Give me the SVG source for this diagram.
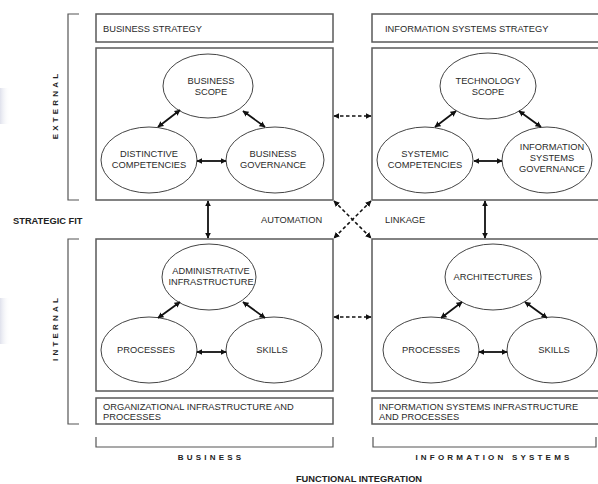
<svg xmlns="http://www.w3.org/2000/svg" width="598" height="484" viewBox="0 0 598 484">
<defs>
<marker id="ah" viewBox="0 0 10 10" refX="9" refY="5" markerWidth="6" markerHeight="6" markerUnits="userSpaceOnUse" orient="auto-start-reverse">
<path d="M0,0 L10,5 L0,10 z" fill="#111"/>
</marker>
<linearGradient id="blob" x1="0" y1="0" x2="1" y2="0">
<stop offset="0" stop-color="#dfe1ec"/>
<stop offset="1" stop-color="#ffffff" stop-opacity="0"/>
</linearGradient>
<style>
.box{fill:#fff;stroke:#5a5a5a;stroke-width:1.5}
.ell{fill:#fff;stroke:#444;stroke-width:1}
.brk{fill:none;stroke:#555;stroke-width:1.2}
.t{font-family:"Liberation Sans",Arial,sans-serif;font-size:9.3px;fill:#2a2a2a}
.tc{font-family:"Liberation Sans",Arial,sans-serif;font-size:9.3px;fill:#2a2a2a;text-anchor:middle}
.b{font-family:"Liberation Sans",Arial,sans-serif;font-size:9.3px;font-weight:bold;fill:#222}
.sp{font-family:"Liberation Sans",Arial,sans-serif;font-size:8px;font-weight:bold;fill:#222;text-anchor:middle;letter-spacing:3.2px}
.ar{stroke:#111;stroke-width:1.8;fill:none;marker-start:url(#ah);marker-end:url(#ah)}
.da{stroke:#111;stroke-width:1.6;fill:none;stroke-dasharray:3.5 2.5;marker-start:url(#ah);marker-end:url(#ah)}
</style>
</defs>
<rect width="598" height="484" fill="#fff"/>
<rect x="0" y="88" width="10" height="36" fill="url(#blob)"/>
<rect x="0" y="298" width="10" height="46" fill="url(#blob)"/>

<g id="side-labels">
<path class="brk" d="M79,14 H68 V200 H79"/>
<path class="brk" d="M79,239 H68 V424 H79"/>
<text class="sp" transform="translate(58,105) rotate(-90)">EXTERNAL</text>
<text class="sp" transform="translate(58,328) rotate(-90)">INTERNAL</text>
<text class="b" x="13" y="223.5">STRATEGIC FIT</text>
<text class="t" x="261" y="223">AUTOMATION</text>
<text class="t" x="385" y="223">LINKAGE</text>
</g>

<g id="bottom-labels">
<path class="brk" d="M96,437 V447 H333 V437"/>
<path class="brk" d="M373,437 V447 H596 V437"/>
<text class="sp" x="211" y="460">BUSINESS</text>
<text class="sp" x="494" y="460">INFORMATION SYSTEMS</text>
<text class="b" x="359" y="482" text-anchor="middle">FUNCTIONAL INTEGRATION</text>
</g>

<g id="business-strategy">
<rect class="box" x="96" y="14" width="237" height="28"/>
<text class="t" x="103" y="32">BUSINESS STRATEGY</text>
</g>
<g id="is-strategy">
<rect class="box" x="372" y="14" width="240" height="28"/>
<text class="t" x="385" y="32">INFORMATION SYSTEMS STRATEGY</text>
</g>

<g id="business-external">
<rect class="box" x="96" y="48" width="237" height="152"/>
</g>
<g id="is-external">
<rect class="box" x="372" y="48" width="240" height="152"/>
</g>
<g id="business-internal">
<rect class="box" x="96" y="239" width="237" height="152"/>
</g>
<g id="is-internal">
<rect class="box" x="372" y="239" width="240" height="152"/>
</g>

<g id="org-infra">
<rect class="box" x="96" y="398" width="237" height="26"/>
<text class="t" x="103" y="410">ORGANIZATIONAL INFRASTRUCTURE AND</text>
<text class="t" x="103" y="420">PROCESSES</text>
</g>
<g id="is-infra">
<rect class="box" x="372" y="398" width="240" height="26"/>
<text class="t" x="379" y="410">INFORMATION SYSTEMS INFRASTRUCTURE</text>
<text class="t" x="379" y="420">AND PROCESSES</text>
</g>

<g id="business-scope">
<ellipse class="ell" cx="208" cy="86" rx="45" ry="32"/>
<text class="tc" x="211" y="84">BUSINESS</text>
<text class="tc" x="211" y="95">SCOPE</text>
</g>
<g id="distinctive-competencies">
<ellipse class="ell" cx="149" cy="160" rx="48" ry="33"/>
<text class="tc" x="149" y="157">DISTINCTIVE</text>
<text class="tc" x="149" y="168">COMPETENCIES</text>
</g>
<g id="business-governance">
<ellipse class="ell" cx="275" cy="160" rx="49" ry="33"/>
<text class="tc" x="273" y="157">BUSINESS</text>
<text class="tc" x="273" y="168">GOVERNANCE</text>
</g>

<g id="technology-scope">
<ellipse class="ell" cx="488" cy="86" rx="48" ry="33"/>
<text class="tc" x="488" y="84">TECHNOLOGY</text>
<text class="tc" x="488" y="95">SCOPE</text>
</g>
<g id="systemic-competencies">
<ellipse class="ell" cx="425" cy="160" rx="48" ry="33"/>
<text class="tc" x="425" y="157">SYSTEMIC</text>
<text class="tc" x="425" y="168">COMPETENCIES</text>
</g>
<g id="is-governance">
<ellipse class="ell" cx="547" cy="160" rx="45" ry="33"/>
<text class="tc" x="552" y="150">INFORMATION</text>
<text class="tc" x="552" y="161">SYSTEMS</text>
<text class="tc" x="552" y="172">GOVERNANCE</text>
</g>

<g id="administrative-infrastructure">
<ellipse class="ell" cx="209" cy="277" rx="47" ry="33"/>
<text class="tc" x="211" y="274">ADMINISTRATIVE</text>
<text class="tc" x="211" y="285">INFRASTRUCTURE</text>
</g>
<g id="business-processes">
<ellipse class="ell" cx="149" cy="350" rx="48" ry="33"/>
<text class="tc" x="146" y="353">PROCESSES</text>
</g>
<g id="business-skills">
<ellipse class="ell" cx="274" cy="350" rx="48" ry="33"/>
<text class="tc" x="272" y="353">SKILLS</text>
</g>

<g id="architectures">
<ellipse class="ell" cx="493" cy="277" rx="48" ry="33"/>
<text class="tc" x="493" y="280">ARCHITECTURES</text>
</g>
<g id="is-processes">
<ellipse class="ell" cx="431" cy="350" rx="48" ry="33"/>
<text class="tc" x="431" y="353">PROCESSES</text>
</g>
<g id="is-skills">
<ellipse class="ell" cx="552" cy="350" rx="45" ry="33"/>
<text class="tc" x="554" y="353">SKILLS</text>
</g>

<g id="connectors">
<line class="ar" x1="180" y1="110" x2="158" y2="127"/>
<line class="ar" x1="243" y1="111" x2="265" y2="127"/>
<line class="ar" x1="197" y1="161" x2="226" y2="161"/>
<line class="ar" x1="456" y1="111" x2="435" y2="127"/>
<line class="ar" x1="519" y1="111" x2="541" y2="127"/>
<line class="ar" x1="474" y1="161" x2="502" y2="161"/>
<line class="ar" x1="180" y1="302" x2="158" y2="318"/>
<line class="ar" x1="243" y1="302" x2="265" y2="318"/>
<line class="ar" x1="197" y1="352" x2="226" y2="352"/>
<line class="ar" x1="462" y1="302" x2="441" y2="318"/>
<line class="ar" x1="525" y1="302" x2="547" y2="318"/>
<line class="ar" x1="479" y1="352" x2="507" y2="352"/>
<line class="ar" x1="208" y1="201" x2="208" y2="238"/>
<line class="ar" x1="485" y1="201" x2="485" y2="238"/>
<line class="da" x1="334" y1="116" x2="371" y2="116"/>
<line class="da" x1="334" y1="317" x2="371" y2="317"/>
<line class="da" x1="334" y1="201" x2="371" y2="238"/>
<line class="da" x1="371" y1="201" x2="334" y2="238"/>
</g>
</svg>
